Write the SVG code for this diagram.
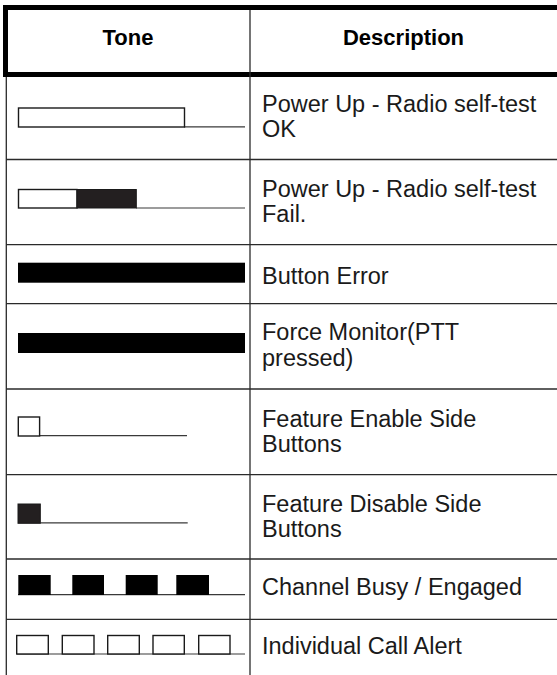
<svg xmlns="http://www.w3.org/2000/svg" width="557" height="675" viewBox="0 0 557 675">
<style>
.t{font-family:"Liberation Sans",Arial,sans-serif;font-size:23.5px;fill:#1a1a1a}
.h{font-family:"Liberation Sans",Arial,sans-serif;font-size:22px;font-weight:bold;fill:#000;text-anchor:middle}
.g{stroke:#2a2a2a;stroke-width:1.3;fill:none}
.w{fill:#fff;stroke:#1a1a1a;stroke-width:1.4}
.d{fill:#231f20;stroke:#1a1a1a;stroke-width:1}
.b{fill:#000}
.l{stroke:#3a3a3a;stroke-width:1.2;fill:none}
</style>
<rect width="557" height="675" fill="#fff"/>
<g id="grid">
<rect x="3" y="5" width="554" height="5" fill="#000"/>
<rect x="3" y="5" width="5" height="72" fill="#000"/>
<rect x="3" y="72" width="554" height="5" fill="#000"/>
<line class="g" x1="6.3" y1="77" x2="6.3" y2="675"/>
<line class="g" x1="250" y1="10" x2="250" y2="675"/>
<line class="g" x1="6" y1="159.5" x2="557" y2="159.5"/>
<line class="g" x1="6" y1="244.7" x2="557" y2="244.7"/>
<line class="g" x1="6" y1="303.7" x2="557" y2="303.7"/>
<line class="g" x1="6" y1="389" x2="557" y2="389"/>
<line class="g" x1="6" y1="474.7" x2="557" y2="474.7"/>
<line class="g" x1="6" y1="559" x2="557" y2="559"/>
<line class="g" x1="6" y1="619.3" x2="557" y2="619.3"/>
</g>
<g id="header">
<text class="h" x="128" y="45">Tone</text>
<text class="h" x="403.5" y="45">Description</text>
</g>
<g id="row-power-ok">
<line class="l" x1="184" y1="126.8" x2="245" y2="126.8"/>
<rect class="w" x="18.5" y="108" width="166" height="19"/>
<text class="t" x="262" y="112">Power Up - Radio self-test</text>
<text class="t" x="262" y="137.3">OK</text>
</g>
<g id="row-power-fail">
<line class="l" x1="136" y1="208" x2="245" y2="208"/>
<rect class="w" x="18.5" y="189.5" width="58.5" height="18.5"/>
<rect class="d" x="77" y="189.5" width="59.3" height="18.5"/>
<text class="t" x="262" y="197">Power Up - Radio self-test</text>
<text class="t" x="262" y="222.3">Fail.</text>
</g>
<g id="row-button-error">
<rect class="b" x="18" y="262.7" width="227" height="20"/>
<text class="t" x="262" y="283.7">Button Error</text>
</g>
<g id="row-force-monitor">
<rect class="b" x="18" y="333" width="227" height="20"/>
<text class="t" x="262" y="340.4">Force Monitor(PTT</text>
<text class="t" x="262" y="365.7">pressed)</text>
</g>
<g id="row-feature-enable">
<line class="l" x1="39.7" y1="435.7" x2="187" y2="435.7"/>
<rect class="w" x="18.3" y="417" width="21.3" height="19"/>
<text class="t" x="262" y="427">Feature Enable Side</text>
<text class="t" x="262" y="452.3">Buttons</text>
</g>
<g id="row-feature-disable">
<line class="l" x1="40.3" y1="522.8" x2="187.7" y2="522.8"/>
<rect class="d" x="18" y="504" width="22.3" height="19.3"/>
<text class="t" x="262" y="512">Feature Disable Side</text>
<text class="t" x="262" y="537.3">Buttons</text>
</g>
<g id="row-channel-busy">
<line class="l" x1="18" y1="594.6" x2="245" y2="594.6"/>
<rect class="b" x="18.3" y="575" width="32.4" height="20"/>
<rect class="b" x="72.3" y="575" width="31.7" height="20"/>
<rect class="b" x="125.7" y="575" width="32" height="20"/>
<rect class="b" x="176.3" y="575" width="32.7" height="20"/>
<text class="t" x="262" y="595">Channel Busy / Engaged</text>
</g>
<g id="row-call-alert">
<line class="l" x1="17" y1="654" x2="245" y2="654"/>
<rect class="w" x="16.7" y="635.5" width="31.6" height="18.5"/>
<rect class="w" x="62.3" y="635.5" width="31.7" height="18.5"/>
<rect class="w" x="107.7" y="635.5" width="31.6" height="18.5"/>
<rect class="w" x="153" y="635.5" width="31.3" height="18.5"/>
<rect class="w" x="198.7" y="635.5" width="31.3" height="18.5"/>
<text class="t" x="262" y="654">Individual Call Alert</text>
</g>
</svg>
